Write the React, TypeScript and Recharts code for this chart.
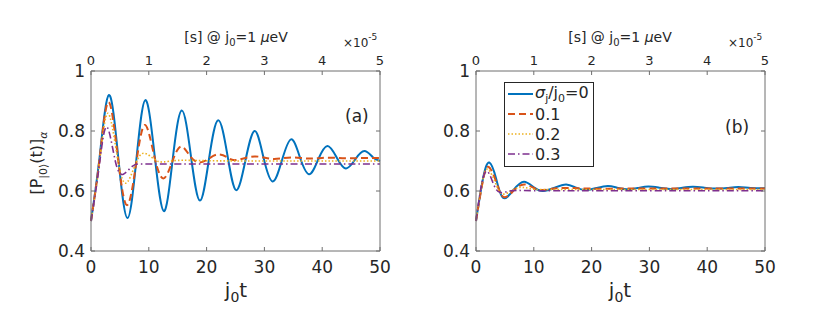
import React from "react";
import { LineChart, Line, XAxis, YAxis, Legend } from "recharts";

const timeTicks = [0, 10, 20, 30, 40, 50];
const secTicks = [0, 1, 2, 3, 4, 5];
const probTicks = [0.4, 0.6, 0.8, 1];
const seriesNames = ["0", "0.1", "0.2", "0.3"];

// panel (a): sigma_j/j0 = 0, 0.1, 0.2, 0.3
const tA0 = [0, 1.5, 3.1, 4.7, 6.3, 7.85, 9.4, 11.0, 12.6, 14.1, 15.7, 17.3, 18.85, 20.4, 22.0, 23.6, 25.1, 26.7, 28.3, 29.8, 31.4, 33.0, 34.6, 36.1, 37.7, 39.3, 40.9, 42.5, 44.1, 45.7, 47.3, 48.8, 50];
const pA0 = [0.5, 0.715, 0.92, 0.715, 0.51, 0.705, 0.903, 0.72, 0.533, 0.7, 0.868, 0.715, 0.568, 0.705, 0.836, 0.72, 0.603, 0.7, 0.8, 0.715, 0.632, 0.7, 0.772, 0.715, 0.656, 0.705, 0.75, 0.712, 0.675, 0.705, 0.733, 0.712, 0.7];
const tA1 = [0, 1.5, 3.0, 4.6, 6.2, 7.8, 9.3, 10.9, 12.5, 14.1, 15.6, 17.2, 18.8, 20.4, 22.0, 23.6, 25.1, 28.3, 31.4, 34.6, 37.7, 40.8, 44.0, 47.1, 50];
const pA1 = [0.5, 0.71, 0.896, 0.72, 0.553, 0.69, 0.82, 0.72, 0.642, 0.7, 0.748, 0.715, 0.695, 0.708, 0.722, 0.712, 0.703, 0.715, 0.707, 0.712, 0.708, 0.711, 0.709, 0.71, 0.71];
const tA2 = [0, 1.5, 2.9, 4.5, 6.0, 7.7, 9.2, 11, 12.5, 15, 20, 30, 40, 50];
const pA2 = [0.5, 0.7, 0.859, 0.72, 0.626, 0.69, 0.726, 0.705, 0.697, 0.702, 0.701, 0.7, 0.7, 0.7];
const tA3 = [0, 1.4, 2.7, 4.2, 5.6, 7.2, 8.8, 12, 20, 30, 40, 50];
const pA3 = [0.5, 0.68, 0.814, 0.7, 0.656, 0.683, 0.69, 0.69, 0.69, 0.69, 0.69, 0.69];

// panel (b)
const tB0 = [0, 1.2, 2.3, 3.5, 4.7, 6.5, 8.3, 10.0, 11.6, 13.6, 15.6, 17.3, 19.0, 20.9, 22.8, 24.4, 26.1, 28.0, 29.8, 31.7, 33.6, 35.5, 37.5, 39.5, 41.5, 43.5, 45.4, 47.5, 50];
const pB0 = [0.5, 0.64, 0.695, 0.64, 0.577, 0.604, 0.631, 0.612, 0.6, 0.611, 0.622, 0.611, 0.603, 0.61, 0.617, 0.611, 0.606, 0.61, 0.615, 0.611, 0.607, 0.61, 0.614, 0.611, 0.608, 0.61, 0.613, 0.61, 0.609];
const tB1 = [0, 1.2, 2.2, 3.5, 4.8, 6.6, 8.3, 10.0, 11.5, 14, 17, 20, 25, 30, 40, 50];
const pB1 = [0.5, 0.635, 0.68, 0.63, 0.58, 0.603, 0.622, 0.61, 0.603, 0.609, 0.61, 0.608, 0.608, 0.608, 0.608, 0.608];
const tB2 = [0, 1.1, 2.1, 3.4, 4.6, 6.3, 8.0, 10, 13, 20, 30, 40, 50];
const pB2 = [0.5, 0.63, 0.672, 0.625, 0.59, 0.603, 0.612, 0.606, 0.605, 0.605, 0.605, 0.605, 0.605];
const tB3 = [0, 1, 2.0, 3.1, 4.2, 5.8, 7.5, 10, 15, 20, 30, 40, 50];
const pB3 = [0.5, 0.625, 0.665, 0.62, 0.595, 0.6, 0.602, 0.601, 0.601, 0.601, 0.601, 0.601, 0.601];

const colors = ["#0072BD", "#D95319", "#EDB120", "#7E2F8E"];
const dashes = [undefined, "7 4", "1.5 2", "7 3 1.5 3"];
const widths = [2, 2, 1.6, 1.6];
const font = "DejaVu Sans, sans-serif";
const ink = "#262626";
const axisGray = "#6e6e6e";

const zip = (t: number[], p: number[]) => t.map((x, i) => ({ t: x, p: p[i] }));

const panelA = [zip(tA0, pA0), zip(tA1, pA1), zip(tA2, pA2), zip(tA3, pA3)];
const panelB = [zip(tB0, pB0), zip(tB1, pB1), zip(tB2, pB2), zip(tB3, pB3)];
// corners of the box, so the top and right axes get drawn
const boxCorners = [
  { t: secTicks[0], p: probTicks[0] },
  { t: secTicks[secTicks.length - 1], p: probTicks[probTicks.length - 1] },
];

const renderLegend = () => (
  <div
    style={{
      border: `1px solid ${ink}`,
      background: "#fff",
      padding: "1px 4px 2px 2px",
      fontFamily: font,
      fontSize: 16,
      color: ink,
      boxSizing: "border-box",
    }}
  >
    {seriesNames.map((name, i) => (
      <div key={name} style={{ display: "flex", alignItems: "center", height: 20 }}>
        <svg width={27} height={10}>
          <line x1={1} y1={5} x2={26} y2={5} stroke={colors[i]} strokeWidth={widths[i]} strokeDasharray={dashes[i]} />
        </svg>
        <span style={{ marginLeft: 1, whiteSpace: "nowrap" }}>
          {i === 0 ? (
            <>
              <span style={{ fontStyle: "italic" }}>σ</span>
              <sub style={{ fontSize: 11 }}>j</sub>/j<sub style={{ fontSize: 11 }}>0</sub>=0
            </>
          ) : (
            name
          )}
        </span>
      </div>
    ))}
  </div>
);

function Panel({ left, width, marginLeft, marginRight, series, legend }: any) {
  const tick = { fill: ink, fontSize: 17, fontFamily: font };
  return (
    <div style={{ position: "absolute", left, top: 0 }}>
      <LineChart
        width={width}
        height={321}
        margin={{ top: 51, right: marginRight, bottom: 40, left: marginLeft }}
      >
        <XAxis
          xAxisId="b"
          dataKey="t"
          type="number"
          domain={[0, 50]}
          ticks={timeTicks}
          height={30}
          stroke={axisGray}
          tickSize={-4}
          tickMargin={14}
          tick={tick}
          allowDuplicatedCategory={false}
        />
        <XAxis
          xAxisId="top"
          dataKey="t"
          orientation="top"
          type="number"
          domain={[0, 5]}
          ticks={secTicks}
          height={20}
          stroke={axisGray}
          tickSize={-4}
          tickMargin={10}
          tick={{ fill: ink, fontSize: 13, fontFamily: font }}
        />
        <YAxis
          yAxisId="l"
          type="number"
          domain={[0.4, 1]}
          ticks={probTicks}
          width={40}
          stroke={axisGray}
          tickSize={-4}
          tickMargin={10}
          tick={tick}
        />
        <YAxis
          yAxisId="r"
          orientation="right"
          type="number"
          domain={[0.4, 1]}
          ticks={probTicks}
          width={10}
          stroke={axisGray}
          tickSize={-4}
          tickFormatter={() => ""}
        />
        <Line
          data={boxCorners}
          dataKey="p"
          xAxisId="top"
          yAxisId="r"
          stroke="none"
          dot={false}
          activeDot={false}
          legendType="none"
          isAnimationActive={false}
        />
        {series.map((d: any, i: number) => (
          <Line
            key={i}
            data={d}
            dataKey="p"
            xAxisId="b"
            yAxisId="l"
            type="natural"
            stroke={colors[i]}
            strokeWidth={widths[i]}
            strokeDasharray={dashes[i]}
            dot={false}
            activeDot={false}
            isAnimationActive={false}
          />
        ))}
        {legend && (
          <Legend
            layout="vertical"
            align="center"
            verticalAlign="middle"
            content={renderLegend}
            wrapperStyle={{ left: 84, top: 82, width: 90, height: "auto" }}
          />
        )}
      </LineChart>
    </div>
  );
}

function TopTitle({ cx, x10 }: { cx: number; x10: number }) {
  return (
    <>
      <text x={cx} y={42} textAnchor="middle" fontSize={14} fill={ink} fontFamily={font}>
        [s] @ j<tspan dy={4} fontSize={10}>0</tspan>
        <tspan dy={-4}>=1 </tspan>
        <tspan fontStyle="italic">μ</tspan>eV
      </text>
      <text x={x10} y={47} fontSize={12} fill={ink} fontFamily={font}>
        ×10<tspan dy={-7} fontSize={9}>-5</tspan>
      </text>
    </>
  );
}

function BottomTitle({ cx }: { cx: number }) {
  return (
    <text x={cx} y={297} textAnchor="middle" fontSize={20} fill={ink} fontFamily={font}>
      j<tspan dy={5} fontSize={14}>0</tspan>
      <tspan dy={-5}>t</tspan>
    </text>
  );
}

export default function App() {
  return (
    <div style={{ position: "absolute", left: 0, top: 0, width: 830, height: 321, background: "#fff" }}>
      <Panel left={0} width={420} marginLeft={51} marginRight={30} series={panelA} legend={false} />
      <Panel left={420} width={410} marginLeft={16} marginRight={55} series={panelB} legend={true} />
      <svg
        width={830}
        height={321}
        style={{ position: "absolute", left: 0, top: 0, pointerEvents: "none" }}
      >
        <TopTitle cx={236} x10={343} />
        <TopTitle cx={620} x10={728} />
        <BottomTitle cx={236} />
        <BottomTitle cx={620} />
        <text x={345} y={122} fontSize={17} fill={ink} fontFamily={font}>(a)</text>
        <text x={725} y={133} fontSize={17} fill={ink} fontFamily={font}>(b)</text>
        <g transform="translate(42,163) rotate(-90)">
          <text x={0} y={0} textAnchor="middle" fontSize={16} fill={ink} fontFamily={font}>
            [P<tspan dy={5} fontSize={11}>|0⟩</tspan>
            <tspan dy={-5}>(t)]</tspan>
            <tspan dy={5} fontSize={11} fontStyle="italic">α</tspan>
          </text>
        </g>
      </svg>
    </div>
  );
}
